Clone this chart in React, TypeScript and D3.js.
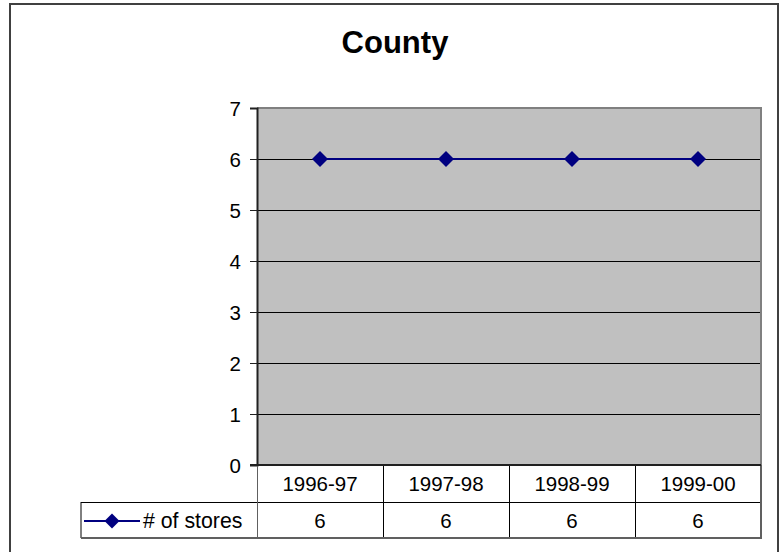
import React, { useEffect, useRef } from "react";
import * as d3 from "d3";

const categories = ["1996-97", "1997-98", "1998-99", "1999-00"];
const stores = [6, 6, 6, 6];
const yTicks = [0, 1, 2, 3, 4, 5, 6, 7];
const seriesName = "# of stores";

const width = 780;
const height = 552;
const plot = { left: 257, right: 761, top: 108, bottom: 465 };
const table = { left: 81, row1: 502, row2: 538 };
const font = "'Liberation Sans', Arial, sans-serif";
const navy = "#000080";

const diamond = (g, cx, cy, r) =>
  g
    .append("path")
    .attr("d", `M${cx},${cy - r}L${cx + r},${cy}L${cx},${cy + r}L${cx - r},${cy}Z`)
    .attr("fill", navy);

const App = () => {
  const ref = useRef(null);

  useEffect(() => {
    const svg = d3.select(ref.current);
    svg.selectAll("*").remove();

    const x = d3.scaleBand().domain(categories).range([plot.left, plot.right]);
    const y = d3.scaleLinear().domain([0, 7]).range([plot.bottom, plot.top]);

    svg.append("rect").attr("width", width).attr("height", height).attr("fill", "#fff");

    // outer chart border
    svg
      .append("path")
      .attr("d", `M10,${height + 5}V4H778V${height + 5}`)
      .attr("fill", "none")
      .attr("stroke", "#404040")
      .attr("stroke-width", 2);

    svg
      .append("text")
      .attr("x", 395)
      .attr("y", 53)
      .attr("text-anchor", "middle")
      .attr("font-family", font)
      .attr("font-weight", "bold")
      .attr("font-size", 31)
      .text("County");

    // plot area
    svg
      .append("rect")
      .attr("x", plot.left)
      .attr("y", plot.top)
      .attr("width", plot.right - plot.left)
      .attr("height", plot.bottom - plot.top)
      .attr("fill", "#c0c0c0");

    svg
      .append("g")
      .selectAll("line")
      .data(yTicks.filter((d) => d > 0 && d < 7))
      .join("line")
      .attr("x1", plot.left)
      .attr("x2", plot.right)
      .attr("y1", (d) => y(d) + 0.5)
      .attr("y2", (d) => y(d) + 0.5)
      .attr("stroke", "#000")
      .attr("stroke-width", 1);

    svg
      .append("path")
      .attr("d", `M${plot.left},${plot.top}H${plot.right}V${plot.bottom}`)
      .attr("fill", "none")
      .attr("stroke", "#808080")
      .attr("stroke-width", 2);

    // y axis
    const yAxis = svg
      .append("g")
      .attr("transform", `translate(${plot.left},0)`)
      .call(d3.axisLeft(y).tickValues(yTicks).tickSize(7).tickPadding(9).tickFormat(d3.format("d")));
    yAxis.select(".domain").attr("stroke", "#202020").attr("stroke-width", 2);
    yAxis.selectAll(".tick line").attr("stroke", "#202020");
    yAxis
      .selectAll(".tick text")
      .attr("font-family", font)
      .attr("font-size", 20.5)
      .attr("fill", "#000")
      .attr("dy", "0.35em");

    // data table
    const t = svg.append("g").attr("stroke", "#000").attr("stroke-width", 1);
    t.append("line")
      .attr("x1", table.left).attr("x2", plot.right)
      .attr("y1", table.row1 + 0.5).attr("y2", table.row1 + 0.5);
    t.append("line")
      .attr("x1", table.left).attr("x2", table.left)
      .attr("y1", table.row1).attr("y2", table.row2);
    t.selectAll(".col")
      .data(categories.slice(1))
      .join("line")
      .attr("x1", (d) => x(d) + 0.5)
      .attr("x2", (d) => x(d) + 0.5)
      .attr("y1", plot.bottom)
      .attr("y2", table.row2);
    t.append("line")
      .attr("x1", plot.left + 0.5).attr("x2", plot.left + 0.5)
      .attr("y1", plot.bottom).attr("y2", table.row2)
      .attr("stroke", "#606060");
    svg
      .append("path")
      .attr("d", `M${table.left},${table.row2}H${plot.right}V${plot.bottom}`)
      .attr("fill", "none")
      .attr("stroke", "#606060")
      .attr("stroke-width", 2);

    // x axis line
    svg
      .append("line")
      .attr("x1", plot.left - 7).attr("x2", plot.right)
      .attr("y1", plot.bottom).attr("y2", plot.bottom)
      .attr("stroke", "#202020")
      .attr("stroke-width", 2);

    const cells = svg.append("g").attr("font-family", font).attr("font-size", 20.5).attr("text-anchor", "middle");
    cells
      .selectAll(".cat")
      .data(categories)
      .join("text")
      .attr("x", (d) => x(d) + x.bandwidth() / 2)
      .attr("y", (plot.bottom + table.row1) / 2)
      .attr("dy", "0.35em")
      .text((d) => d);
    cells
      .selectAll(".val")
      .data(stores)
      .join("text")
      .attr("x", (d, i) => x(categories[i]) + x.bandwidth() / 2)
      .attr("y", (table.row1 + table.row2) / 2 + 1)
      .attr("dy", "0.35em")
      .text((d) => d);

    // legend key
    const ly = (table.row1 + table.row2) / 2 + 1;
    svg
      .append("line")
      .attr("x1", 84).attr("x2", 140)
      .attr("y1", ly).attr("y2", ly)
      .attr("stroke", navy).attr("stroke-width", 2);
    diamond(svg, 112, ly, 7.5);
    svg
      .append("text")
      .attr("x", 143)
      .attr("y", ly)
      .attr("dy", "0.35em")
      .attr("font-family", font)
      .attr("font-size", 21.3)
      .text(seriesName);

    // series
    const line = d3
      .line()
      .x((d, i) => x(categories[i]) + x.bandwidth() / 2)
      .y((d) => y(d));
    svg
      .append("path")
      .datum(stores)
      .attr("d", line)
      .attr("fill", "none")
      .attr("stroke", navy)
      .attr("stroke-width", 2);
    stores.forEach((d, i) => diamond(svg, x(categories[i]) + x.bandwidth() / 2, y(d), 8));
  }, []);

  return (
    <svg
      ref={ref}
      width={width}
      height={height}
      style={{ position: "absolute", left: 0, top: 0 }}
    />
  );
};

export default App;
